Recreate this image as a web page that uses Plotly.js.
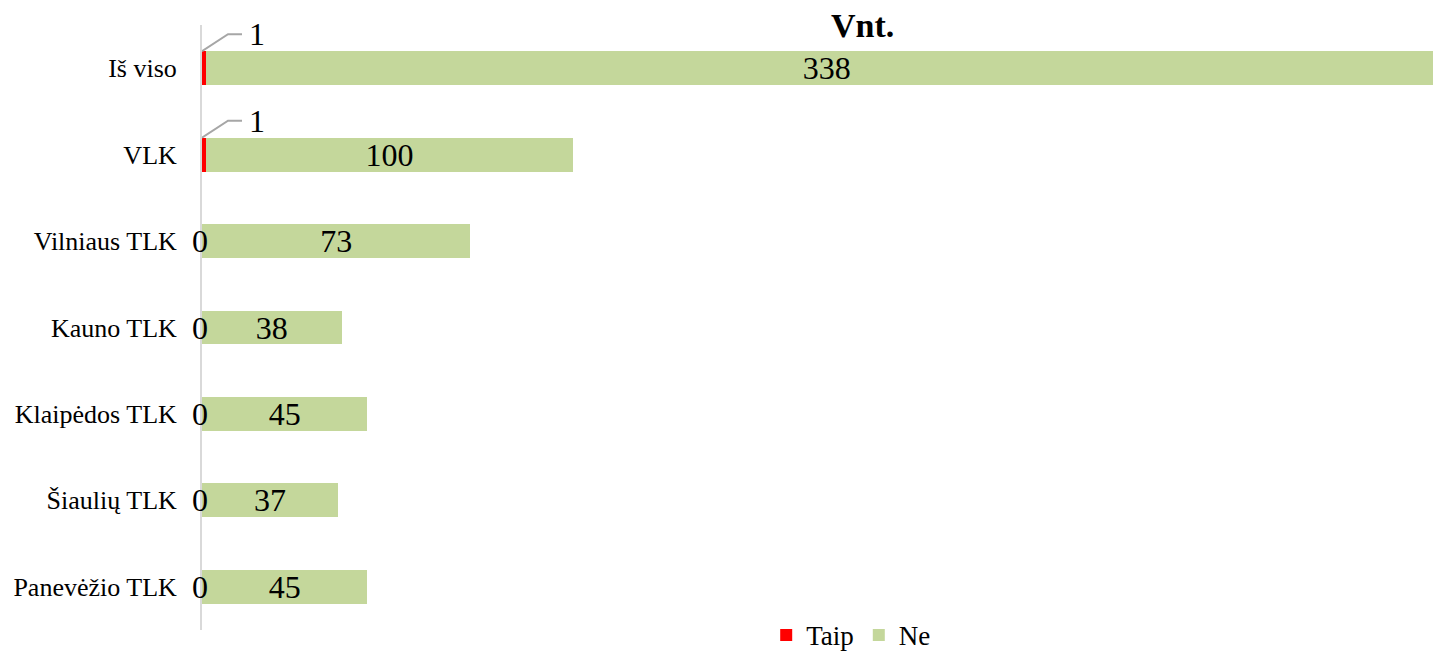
<!DOCTYPE html>
<html><head><meta charset="utf-8">
<script src="https://cdn.plot.ly/plotly-3.0.1.min.js"></script>
<style>html,body{margin:0;padding:0;background:#fff}#chart{width:1433px;height:655px}</style>
</head><body><div id="chart"></div>
<script>
const categories = ["Iš viso", "VLK", "Vilniaus TLK", "Kauno TLK", "Klaipėdos TLK", "Šiaulių TLK", "Panevėžio TLK"];
const taip = [1, 1, 0, 0, 0, 0, 0];
const ne = [338, 100, 73, 38, 45, 37, 45];
const seriesNames = ["Taip", "Ne"];
const chartTitle = "Vnt.";

const FONT = "Liberation Serif, Times New Roman, serif";

const traces = [
  {type:'bar', orientation:'h', name:seriesNames[0], y:categories, x:taip,
   marker:{color:'#ff0000'}, hoverinfo:'x+y'},
  {type:'bar', orientation:'h', name:seriesNames[1], y:categories, x:ne,
   marker:{color:'#c4d79b'}, text:ne.map(String), textposition:'inside',
   insidetextanchor:'middle', textangle:0, constraintext:'none',
   textfont:{family:FONT, size:32, color:'#000'}, hoverinfo:'x+y'}
];

const annotations = [];
const shapes = [];
categories.forEach((c,i)=>{
  if (taip[i] > 0) {
    annotations.push({xref:'x', yref:'y', x:0, y:c, text:String(taip[i]), showarrow:false,
      xanchor:'center', yanchor:'middle', xshift:55, yshift:34,
      font:{family:FONT, size:32, color:'#000'}});
    shapes.push({type:'path', xref:'x', yref:'y', xsizemode:'pixel', ysizemode:'pixel',
      xanchor:0, yanchor:i, path:'M 0,17 L 26,34 L 40,34',
      line:{color:'#a6a6a6', width:2}});
  } else {
    annotations.push({xref:'x', yref:'y', x:0, y:c, text:String(taip[i]), showarrow:false,
      xanchor:'center', yanchor:'middle', xshift:-2,
      font:{family:FONT, size:32, color:'#000'}});
  }
});

const layout = {
  width:1433, height:655,
  margin:{l:202, r:0, t:25, b:25, autoexpand:false},
  paper_bgcolor:'#fff', plot_bgcolor:'#fff',
  barmode:'stack', bargap:0.607,
  title:{text:'<b>'+chartTitle+'</b>', x:0.602, xref:'container', xanchor:'center',
    y:0.962, yref:'container', yanchor:'middle',
    font:{family:FONT, size:34, color:'#000'}},
  xaxis:{range:[0,335], visible:false, fixedrange:true},
  yaxis:{autorange:'reversed', showline:true, linecolor:'#d9d9d9', linewidth:2,
    ticks:'', showgrid:false, zeroline:false, ticklabelstandoff:18,
    tickfont:{family:FONT, size:26, color:'#000'}},
  showlegend:true,
  legend:{orientation:'h', x:0.594, xref:'container', xanchor:'center',
    y:0.03, yref:'container', yanchor:'middle', bgcolor:'rgba(0,0,0,0)',
    font:{family:FONT, size:27, color:'#000'}, itemwidth:30, traceorder:'normal'},
  annotations:annotations, shapes:shapes
};

Plotly.newPlot('chart', traces, layout, {displayModeBar:false, staticPlot:true});
</script></body></html>
